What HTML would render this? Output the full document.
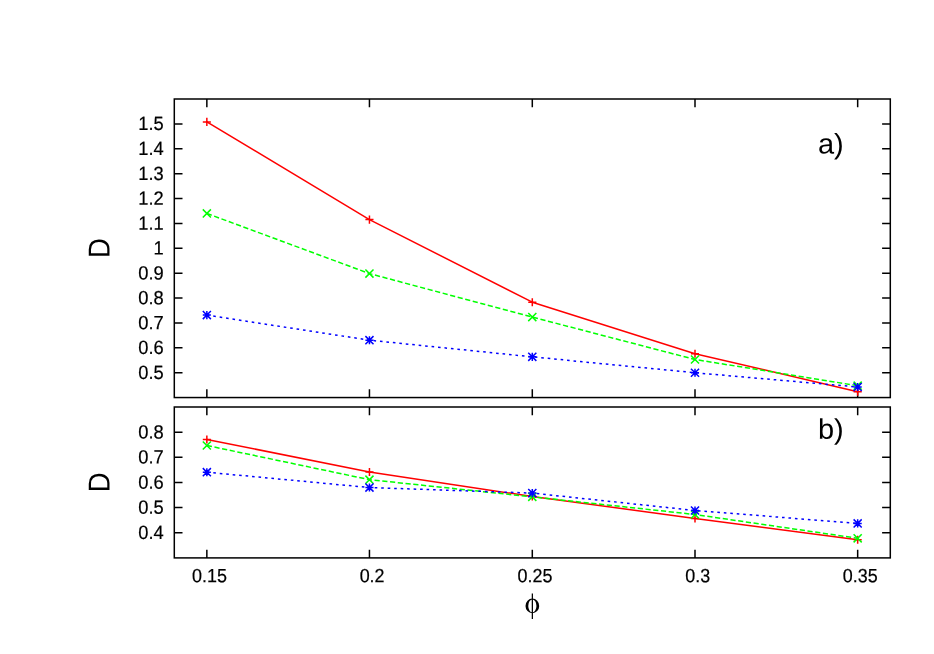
<!DOCTYPE html>
<html><head><meta charset="utf-8"><title>D vs phi</title>
<style>html,body{margin:0;padding:0;background:#fff;}svg{display:block;}text{font-family:"Liberation Sans",sans-serif;fill:#000;}svg{will-change:transform;}</style>
</head><body>
<svg width="934" height="654" viewBox="0 0 934 654">
<rect x="0" y="0" width="934" height="654" fill="#ffffff"/>
<g stroke="#000" stroke-width="1.5" fill="none" stroke-linecap="butt">
<path d="M174.30,372.67h8.2M890.30,372.67h-8.2M174.30,347.79h8.2M890.30,347.79h-8.2M174.30,322.91h8.2M890.30,322.91h-8.2M174.30,298.03h8.2M890.30,298.03h-8.2M174.30,273.15h8.2M890.30,273.15h-8.2M174.30,248.28h8.2M890.30,248.28h-8.2M174.30,223.40h8.2M890.30,223.40h-8.2M174.30,198.52h8.2M890.30,198.52h-8.2M174.30,173.64h8.2M890.30,173.64h-8.2M174.30,148.76h8.2M890.30,148.76h-8.2M174.30,123.88h8.2M890.30,123.88h-8.2M206.85,397.55v-8.2M206.85,99.00v8.2M369.45,397.55v-8.2M369.45,99.00v8.2M532.30,397.55v-8.2M532.30,99.00v8.2M695.00,397.55v-8.2M695.00,99.00v8.2M857.67,397.55v-8.2M857.67,99.00v8.2"/>
<rect x="174.30" y="99.00" width="716.00" height="298.55"/>
</g>
<polyline points="206.85,121.90 369.45,219.60 532.30,302.20 695.00,353.70 857.67,391.70" fill="none" stroke="#ff0000" stroke-width="1.5" stroke-linejoin="round"/>
<path d="M202.80,121.90h8.1M206.85,117.85v8.1M365.40,219.60h8.1M369.45,215.55v8.1M528.25,302.20h8.1M532.30,298.15v8.1M690.95,353.70h8.1M695.00,349.65v8.1M853.62,391.70h8.1M857.67,387.65v8.1" fill="none" stroke="#ff0000" stroke-width="1.5"/>
<polyline points="206.85,213.45 369.45,273.60 532.30,317.10 695.00,359.50 857.67,385.70" fill="none" stroke="#00ff00" stroke-width="1.5" stroke-linejoin="round" stroke-dasharray="5.19 2.595"/>
<path d="M202.80,209.40l8.1,8.1M202.80,217.50l8.1,-8.1M365.40,269.55l8.1,8.1M365.40,277.65l8.1,-8.1M528.25,313.05l8.1,8.1M528.25,321.15l8.1,-8.1M690.95,355.45l8.1,8.1M690.95,363.55l8.1,-8.1M853.62,381.65l8.1,8.1M853.62,389.75l8.1,-8.1" fill="none" stroke="#00ff00" stroke-width="1.5"/>
<polyline points="206.85,315.10 369.45,340.20 532.30,356.85 695.00,372.75 857.67,387.00" fill="none" stroke="#0000ff" stroke-width="1.5" stroke-linejoin="round" stroke-dasharray="2.595 3.89"/>
<path d="M202.80,315.10h8.1M206.85,311.05v8.1M202.80,311.05l8.1,8.1M202.80,319.15l8.1,-8.1M365.40,340.20h8.1M369.45,336.15v8.1M365.40,336.15l8.1,8.1M365.40,344.25l8.1,-8.1M528.25,356.85h8.1M532.30,352.80v8.1M528.25,352.80l8.1,8.1M528.25,360.90l8.1,-8.1M690.95,372.75h8.1M695.00,368.70v8.1M690.95,368.70l8.1,8.1M690.95,376.80l8.1,-8.1M853.62,387.00h8.1M857.67,382.95v8.1M853.62,382.95l8.1,8.1M853.62,391.05l8.1,-8.1" fill="none" stroke="#0000ff" stroke-width="1.5"/>
<g stroke="#000" stroke-width="1.5" fill="none" stroke-linecap="butt">
<path d="M174.30,532.75h8.2M890.30,532.75h-8.2M174.30,507.60h8.2M890.30,507.60h-8.2M174.30,482.45h8.2M890.30,482.45h-8.2M174.30,457.30h8.2M890.30,457.30h-8.2M174.30,432.15h8.2M890.30,432.15h-8.2M206.85,557.90v-8.2M206.85,407.00v8.2M369.45,557.90v-8.2M369.45,407.00v8.2M532.30,557.90v-8.2M532.30,407.00v8.2M695.00,557.90v-8.2M695.00,407.00v8.2M857.67,557.90v-8.2M857.67,407.00v8.2"/>
<rect x="174.30" y="407.00" width="716.00" height="150.90"/>
</g>
<polyline points="206.85,439.45 369.45,471.95 532.30,496.50 695.00,518.40 857.67,539.70" fill="none" stroke="#ff0000" stroke-width="1.5" stroke-linejoin="round"/>
<path d="M202.80,439.45h8.1M206.85,435.40v8.1M365.40,471.95h8.1M369.45,467.90v8.1M528.25,496.50h8.1M532.30,492.45v8.1M690.95,518.40h8.1M695.00,514.35v8.1M853.62,539.70h8.1M857.67,535.65v8.1" fill="none" stroke="#ff0000" stroke-width="1.5"/>
<polyline points="206.85,445.50 369.45,479.65 532.30,496.85 695.00,514.50 857.67,538.30" fill="none" stroke="#00ff00" stroke-width="1.5" stroke-linejoin="round" stroke-dasharray="5.19 2.595"/>
<path d="M202.80,441.45l8.1,8.1M202.80,449.55l8.1,-8.1M365.40,475.60l8.1,8.1M365.40,483.70l8.1,-8.1M528.25,492.80l8.1,8.1M528.25,500.90l8.1,-8.1M690.95,510.45l8.1,8.1M690.95,518.55l8.1,-8.1M853.62,534.25l8.1,8.1M853.62,542.35l8.1,-8.1" fill="none" stroke="#00ff00" stroke-width="1.5"/>
<polyline points="206.85,472.20 369.45,487.55 532.30,493.10 695.00,510.50 857.67,523.40" fill="none" stroke="#0000ff" stroke-width="1.5" stroke-linejoin="round" stroke-dasharray="2.595 3.89"/>
<path d="M202.80,472.20h8.1M206.85,468.15v8.1M202.80,468.15l8.1,8.1M202.80,476.25l8.1,-8.1M365.40,487.55h8.1M369.45,483.50v8.1M365.40,483.50l8.1,8.1M365.40,491.60l8.1,-8.1M528.25,493.10h8.1M532.30,489.05v8.1M528.25,489.05l8.1,8.1M528.25,497.15l8.1,-8.1M690.95,510.50h8.1M695.00,506.45v8.1M690.95,506.45l8.1,8.1M690.95,514.55l8.1,-8.1M853.62,523.40h8.1M857.67,519.35v8.1M853.62,519.35l8.1,8.1M853.62,527.45l8.1,-8.1" fill="none" stroke="#0000ff" stroke-width="1.5"/>
<g font-size="18.5" text-anchor="end" stroke="#000" stroke-width="0.2">
<text transform="translate(163.7,378.92) rotate(0.03) scale(0.99,1.035)">0.5</text>
<text transform="translate(163.7,354.04) rotate(0.03) scale(0.99,1.035)">0.6</text>
<text transform="translate(163.7,329.16) rotate(0.03) scale(0.99,1.035)">0.7</text>
<text transform="translate(163.7,304.28) rotate(0.03) scale(0.99,1.035)">0.8</text>
<text transform="translate(163.7,279.40) rotate(0.03) scale(0.99,1.035)">0.9</text>
<text transform="translate(163.7,254.53) rotate(0.03) scale(0.99,1.035)">1</text>
<text transform="translate(163.7,229.65) rotate(0.03) scale(0.99,1.035)">1.1</text>
<text transform="translate(163.7,204.77) rotate(0.03) scale(0.99,1.035)">1.2</text>
<text transform="translate(163.7,179.89) rotate(0.03) scale(0.99,1.035)">1.3</text>
<text transform="translate(163.7,155.01) rotate(0.03) scale(0.99,1.035)">1.4</text>
<text transform="translate(163.7,130.13) rotate(0.03) scale(0.99,1.035)">1.5</text>
<text transform="translate(163.7,539.00) rotate(0.03) scale(0.99,1.035)">0.4</text>
<text transform="translate(163.7,513.85) rotate(0.03) scale(0.99,1.035)">0.5</text>
<text transform="translate(163.7,488.70) rotate(0.03) scale(0.99,1.035)">0.6</text>
<text transform="translate(163.7,463.55) rotate(0.03) scale(0.99,1.035)">0.7</text>
<text transform="translate(163.7,438.40) rotate(0.03) scale(0.99,1.035)">0.8</text>
</g>
<g font-size="18.5" text-anchor="middle" stroke="#000" stroke-width="0.2">
<text transform="translate(209.50,582.2) rotate(0.03) scale(0.97,1.035)">0.15</text>
<text transform="translate(372.10,582.2) rotate(0.03) scale(0.97,1.035)">0.2</text>
<text transform="translate(534.95,582.2) rotate(0.03) scale(0.97,1.035)">0.25</text>
<text transform="translate(697.65,582.2) rotate(0.03) scale(0.97,1.035)">0.3</text>
<text transform="translate(860.32,582.2) rotate(0.03) scale(0.97,1.035)">0.35</text>
</g>
<text font-size="29" transform="translate(817.9,153.5) rotate(0.03) scale(1,0.98)">a)</text>
<text font-size="29" transform="translate(818.0,438.8) rotate(0.03) scale(1,0.98)">b)</text>
<text font-size="29" text-anchor="middle" transform="translate(109.6,248.1) rotate(-90.03) scale(0.948,1.04)">D</text>
<text font-size="29" text-anchor="middle" transform="translate(109.6,482.2) rotate(-90.03) scale(0.948,1.04)">D</text>
<g><title>&#981;</title>
<path fill="#000" fill-rule="evenodd" d="M525.5,605.9a6.85,7.3 0 1,0 13.7,0a6.85,7.3 0 1,0 -13.7,0zM528.25,605.9a4.1,6.45 0 1,0 8.2,0a4.1,6.45 0 1,0 -8.2,0z"/>
<path d="M532.36,593.5V619.1" stroke="#000" stroke-width="1.25" fill="none"/>
</g>
</svg>
</body></html>
